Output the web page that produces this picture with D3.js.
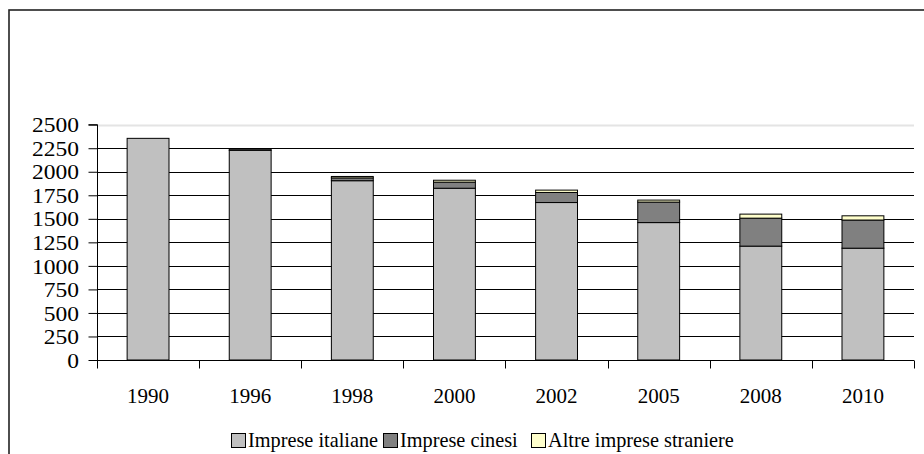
<!DOCTYPE html>
<html>
<head>
<meta charset="utf-8">
<script src="https://cdn.jsdelivr.net/npm/d3@7"></script>
<style>
  html, body { margin: 0; padding: 0; background: #fff; }
  svg { display: block; }
</style>
</head>
<body>
<svg id="chart" width="924" height="454"></svg>
<script>
// Numero di imprese per anno, suddivise per provenienza
const categories = ["1990", "1996", "1998", "2000", "2002", "2005", "2008", "2010"];
const impreseItaliane = [2355, 2228, 1905, 1825, 1673, 1460, 1210, 1188];
const impreseCinesi = [0, 14, 30, 65, 107, 218, 297, 299];
const altreStraniere = [0, 0, 15, 20, 25, 21, 43, 45];
const seriesNames = ["Imprese italiane", "Imprese cinesi", "Altre imprese straniere"];
const yTicks = [0, 250, 500, 750, 1000, 1250, 1500, 1750, 2000, 2250, 2500];

const colors = ["#c0c0c0", "#808080", "#ffffcc"];
const keys = ["ita", "cin", "alt"];
const serif = "'Liberation Serif', 'DejaVu Serif', serif";

const rows = categories.map((c, i) => ({
  year: c, ita: impreseItaliane[i], cin: impreseCinesi[i], alt: altreStraniere[i]
}));

const svg = d3.select("#chart");
const plotLeft = 97, plotRight = 914, plotTop = 124.7, plotBottom = 360;

// Outer frame
svg.append("rect")
  .attr("x", 9).attr("y", 10)
  .attr("width", 930).attr("height", 460)
  .attr("fill", "none").attr("stroke", "#222").attr("stroke-width", 1.6);

const x = d3.scaleBand().domain(categories).range([plotLeft, plotRight])
  .paddingInner(0.59).paddingOuter(0.295);
const y = d3.scaleLinear().domain([0, 2500]).range([plotBottom, plotTop]);

// Horizontal gridlines
svg.append("g").selectAll("line")
  .data(yTicks.filter(d => d > 0))
  .join("line")
  .attr("x1", plotLeft).attr("x2", plotRight)
  .attr("y1", d => Math.round(y(d)) + 0.5).attr("y2", d => Math.round(y(d)) + 0.5)
  .attr("stroke", d => d === 2500 ? "#e4e4e4" : "#000")
  .attr("stroke-width", d => d === 2500 ? 2 : 1);

// Stacked bars
const stack = d3.stack().keys(keys)(rows);
svg.append("g").selectAll("g")
  .data(stack)
  .join("g")
  .attr("fill", (d, i) => colors[i])
  .selectAll("rect")
  .data(d => d.filter(s => s[1] - s[0] > 0))
  .join("rect")
  .attr("x", d => x(d.data.year))
  .attr("y", d => y(d[1]))
  .attr("width", x.bandwidth())
  .attr("height", d => y(d[0]) - y(d[1]))
  .attr("stroke", "#000")
  .attr("stroke-width", 1);

// Y axis (labels slightly widened)
const labelStretch = 1.12;
const yAxis = d3.axisLeft(y).tickValues(yTicks).tickSize(9).tickPadding(9).tickFormat(d3.format("d"));
const gy = svg.append("g").attr("transform", `translate(${plotLeft + 0.5},0)`).call(yAxis)
  .attr("font-family", serif).attr("font-size", 21);
gy.select(".domain").attr("stroke", "#000").attr("d", `M-9,${y(2500)}H0V${plotBottom}`);
gy.selectAll(".tick line").attr("stroke", "#000");
gy.selectAll(".tick text").attr("fill", "#000").attr("dy", "0.34em")
  .attr("x", -18.5 / labelStretch)
  .attr("transform", `scale(${labelStretch},1)`)
  .style("font-family", serif).style("font-size", "21px");

// X axis: labels centred, ticks on category boundaries
const xAxis = d3.axisBottom(x).tickSize(0).tickPadding(28);
const gx = svg.append("g").attr("transform", `translate(0,${plotBottom + 0.5})`).call(xAxis)
  .attr("font-family", serif).attr("font-size", 21);
gx.select(".domain").attr("stroke", "#000").attr("d", `M${plotLeft},0H${plotRight}`);
gx.selectAll(".tick text").attr("fill", "#000")
  .style("font-family", serif).style("font-size", "21px");
const step = x.step();
const bounds = categories.map(c => x(c) - (step - x.bandwidth()) / 2).concat([plotRight]);
gx.selectAll(".bound").data(bounds).join("line")
  .attr("class", "bound")
  .attr("x1", d => Math.round(d) + 0.5).attr("x2", d => Math.round(d) + 0.5)
  .attr("y1", 0).attr("y2", 8)
  .attr("stroke", "#000");

// Legend
const legendX = [231, 383, 531];
const lg = svg.append("g").selectAll("g")
  .data(seriesNames)
  .join("g")
  .attr("transform", (d, i) => `translate(${legendX[i]},433)`);
lg.append("rect")
  .attr("x", 0.5).attr("y", 0.5).attr("width", 14).attr("height", 14)
  .attr("fill", (d, i) => colors[i]).attr("stroke", "#000");
lg.append("text")
  .attr("x", 17).attr("y", 14)
  .attr("fill", "#000")
  .style("font-family", serif).style("font-size", "20.3px")
  .text(d => d);
</script>
</body>
</html>
